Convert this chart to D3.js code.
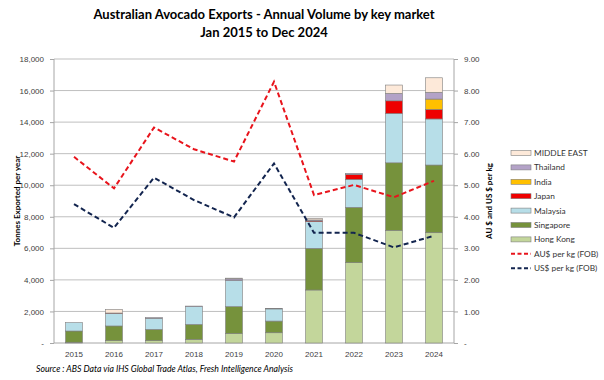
<!DOCTYPE html>
<html>
<head>
<meta charset="utf-8">
<script src="https://cdn.jsdelivr.net/npm/d3@7"></script>
<style>
  body { margin: 0; background: #fff; }
  svg { font-family: Lato, "Open Sans", sans-serif; }
  .axis path, .axis line { stroke: #a6a6a6; }
  .axis text { fill: #404040; font-size: 8px; }
</style>
</head>
<body>
<svg id="chart"></svg>
<script>
// data
const years = ['2015', '2016', '2017', '2018', '2019', '2020', '2021', '2022', '2023', '2024'];
const hongKong   = [50, 150, 150, 230, 600, 650, 3360, 5090, 7140, 6990];
const singapore  = [710, 930, 716, 950, 1710, 740, 2640, 3510, 4280, 4290];
const malaysia   = [530, 800, 700, 1130, 1650, 770, 1690, 1770, 3130, 2920];
const japan      = [0, 20, 0, 0, 0, 0, 50, 310, 800, 610];
const india      = [0, 0, 0, 0, 0, 0, 0, 0, 0, 650];
const thailand   = [0, 0, 40, 30, 100, 30, 60, 70, 470, 430];
const middleEast = [0, 230, 0, 0, 50, 0, 100, 0, 530, 920];
const audPerKg   = [5.90, 4.90, 6.83, 6.14, 5.75, 8.28, 4.69, 5.01, 4.62, 5.14];
const usdPerKg   = [4.40, 3.65, 5.24, 4.53, 3.98, 5.69, 3.49, 3.49, 3.03, 3.40];

const markets = [
  {key: 'Hong Kong',   values: hongKong,   color: '#c3d69b'},
  {key: 'Singapore',   values: singapore,  color: '#76923c'},
  {key: 'Malaysia',    values: malaysia,   color: '#b7dee8'},
  {key: 'Japan',       values: japan,      color: '#ee0000'},
  {key: 'India',       values: india,      color: '#ffc000'},
  {key: 'Thailand',    values: thailand,   color: '#b3a2c7'},
  {key: 'MIDDLE EAST', values: middleEast, color: '#fde9d9'}
];

const W = 604, H = 380;
const margin = {top: 59, right: 150, bottom: 37, left: 54};
const width = W - margin.left - margin.right;   // 400
const height = H - margin.top - margin.bottom;  // 284

const svg = d3.select('#chart').attr('width', W).attr('height', H);

// title
svg.append('text')
  .attr('x', 264).attr('y', 19)
  .attr('text-anchor', 'middle')
  .style('font-size', '13px').style('font-weight', 'bold').style('fill', '#000')
  .text('Australian Avocado Exports - Annual Volume by key market');
svg.append('text')
  .attr('x', 264).attr('y', 37)
  .attr('text-anchor', 'middle')
  .style('font-size', '13px').style('font-weight', 'bold').style('fill', '#000')
  .text('Jan 2015 to Dec 2024');

const chart = svg.append('g')
  .attr('transform', `translate(${margin.left},${margin.top})`);

// scales
const xScale = d3.scaleBand().domain(years).range([0, width]);
const yScale = d3.scaleLinear().domain([0, 18000]).range([height, 0]);
const y2Scale = d3.scaleLinear().domain([0, 9]).range([height, 0]);

// gridlines
chart.append('g')
  .selectAll('line')
  .data(yScale.ticks(9).filter(d => d > 0))
  .join('line')
    .attr('x1', 0).attr('x2', width)
    .attr('y1', d => yScale(d)).attr('y2', d => yScale(d))
    .attr('stroke', '#bfbfbf').attr('stroke-width', 1);

// axes
const yAxis = d3.axisLeft(yScale).ticks(9)
  .tickSize(4).tickPadding(6)
  .tickFormat(d => d === 0 ? '-' : d3.format(',')(d));
chart.append('g').attr('class', 'axis').call(yAxis)
  .call(g => g.select('.domain').attr('d', `M0,0V${height}`));

const y2Axis = d3.axisRight(y2Scale).ticks(9)
  .tickSize(4).tickPadding(6)
  .tickFormat(d => d === 0 ? '-' : d3.format('.2f')(d));
chart.append('g').attr('class', 'axis')
  .attr('transform', `translate(${width},0)`)
  .call(y2Axis)
  .call(g => g.select('.domain').attr('d', `M0,0V${height}`));

const xAxis = d3.axisBottom(xScale).tickSize(0).tickPadding(8);
chart.append('g').attr('class', 'axis')
  .attr('transform', `translate(0,${height})`)
  .call(xAxis)
  .call(g => g.select('.domain').attr('d', `M0,0H${width}`));

// axis titles
svg.append('text')
  .attr('transform', `translate(17,${margin.top + height / 2}) rotate(-90)`)
  .attr('text-anchor', 'middle').attr('dy', '0.35em')
  .style('font-size', '8px').style('font-weight', 'bold').style('fill', '#000')
  .text('Tonnes Exported per year');
svg.append('text')
  .attr('transform', `translate(489,${margin.top + height / 2}) rotate(-90)`)
  .attr('text-anchor', 'middle').attr('dy', '0.35em')
  .style('font-size', '8px').style('font-weight', 'bold').style('fill', '#000')
  .text('AU $ and US $ per kg');

// stacked bars
const table = years.map((yr, i) => {
  const row = {year: yr};
  markets.forEach(m => { row[m.key] = m.values[i]; });
  return row;
});
const stack = d3.stack().keys(markets.map(m => m.key));
const series = stack(table);
const barW = 17;

chart.append('g')
  .selectAll('g')
  .data(series)
  .join('g')
    .attr('fill', (d, i) => markets[i].color)
  .selectAll('rect')
  .data(d => d.filter(p => p[1] - p[0] > 0))
  .join('rect')
    .attr('x', d => xScale(d.data.year) + xScale.bandwidth() / 2 - barW / 2)
    .attr('y', d => yScale(d[1]))
    .attr('width', barW)
    .attr('height', d => yScale(d[0]) - yScale(d[1]))
    .attr('stroke', '#7f7f7f').attr('stroke-width', 0.6);

// price lines
const lines = [
  {key: 'AU$ per kg (FOB)', values: audPerKg, color: '#e8141c'},
  {key: 'US$ per kg (FOB)', values: usdPerKg, color: '#13254f'}
];
const lineGen = d3.line()
  .x((d, i) => xScale(years[i]) + xScale.bandwidth() / 2)
  .y(d => y2Scale(d));
lines.forEach(l => {
  chart.append('path')
    .datum(l.values)
    .attr('d', lineGen)
    .attr('fill', 'none')
    .attr('stroke', l.color)
    .attr('stroke-width', 2)
    .attr('stroke-dasharray', '5,3');
});

// legend
const legend = svg.append('g').attr('transform', 'translate(511,153)');
const legendItems = markets.slice().reverse().map(m => ({key: m.key, color: m.color, type: 'bar'}))
  .concat(lines.map(l => ({key: l.key, color: l.color, type: 'line'})));
const li = legend.selectAll('g')
  .data(legendItems)
  .join('g')
    .attr('transform', (d, i) => `translate(0,${i * 14.4})`);
li.filter(d => d.type === 'bar').append('rect')
  .attr('x', 0).attr('y', -2.5).attr('width', 20).attr('height', 5)
  .attr('fill', d => d.color).attr('stroke', '#7f7f7f').attr('stroke-width', 0.6);
li.filter(d => d.type === 'line').append('line')
  .attr('x1', 0).attr('x2', 20).attr('y1', 0).attr('y2', 0)
  .attr('stroke', d => d.color).attr('stroke-width', 2).attr('stroke-dasharray', '4,2.5');
li.append('text')
  .attr('x', 23).attr('dy', '0.35em')
  .style('font-size', '8.3px').style('fill', '#333')
  .text(d => d.key);

// source note
svg.append('text')
  .attr('x', 36).attr('y', 372)
  .style('font-size', '8.7px').style('font-style', 'italic').style('fill', '#000')
  .text('Source : ABS Data via IHS Global Trade Atlas, Fresh Intelligence Analysis');
</script>
</body>
</html>
